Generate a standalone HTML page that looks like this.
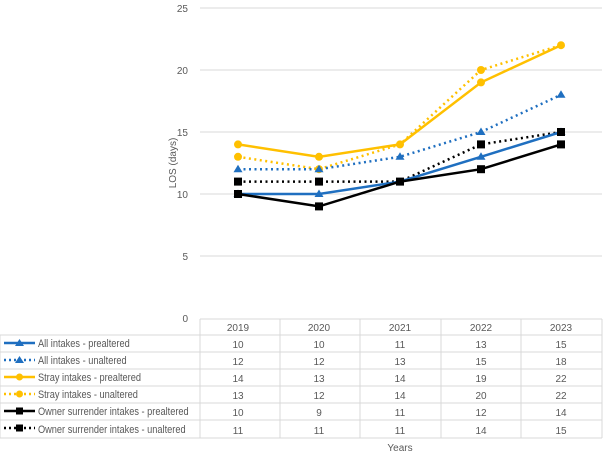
<!DOCTYPE html>
<html><head><style>
body{margin:0;background:#fff;width:603px;height:452px;overflow:hidden;font-family:"Liberation Sans",sans-serif}
</style></head><body>
<svg width="603" height="452" xmlns="http://www.w3.org/2000/svg" font-family="Liberation Sans, sans-serif" font-size="10" fill="#595959">
<g stroke="#d9d9d9" stroke-width="1">
<line x1="200" y1="8" x2="602" y2="8"/><line x1="200" y1="70" x2="602" y2="70"/>
<line x1="200" y1="132" x2="602" y2="132"/><line x1="200" y1="194" x2="602" y2="194"/>
<line x1="200" y1="256" x2="602" y2="256"/>
</g>
<g text-anchor="end" fill="#595959">
<text x="188" y="12">25</text><text x="188" y="74">20</text><text x="188" y="136">15</text>
<text x="188" y="198">10</text><text x="188" y="260">5</text><text x="188" y="322">0</text>
</g>
<text transform="translate(176,163) rotate(-90)" text-anchor="middle">LOS (days)</text>
<g stroke="#d9d9d9" stroke-width="1" fill="none">
<line x1="200" y1="319" x2="602" y2="319"/>
<line x1="0" y1="335" x2="602" y2="335"/><line x1="0" y1="352" x2="602" y2="352"/>
<line x1="0" y1="369" x2="602" y2="369"/><line x1="0" y1="386" x2="602" y2="386"/>
<line x1="0" y1="403" x2="602" y2="403"/><line x1="0" y1="420" x2="602" y2="420"/>
<line x1="0" y1="438" x2="602" y2="438"/>
<line x1="0" y1="335" x2="0" y2="438"/>
<line x1="200" y1="319" x2="200" y2="438"/><line x1="280" y1="319" x2="280" y2="438"/>
<line x1="360" y1="319" x2="360" y2="438"/><line x1="441" y1="319" x2="441" y2="438"/>
<line x1="521" y1="319" x2="521" y2="438"/><line x1="602" y1="319" x2="602" y2="438"/>
</g>
<g text-anchor="middle">
<text x="238" y="331">2019</text><text x="319" y="331">2020</text><text x="400" y="331">2021</text><text x="481" y="331">2022</text><text x="561" y="331">2023</text>
<text x="238" y="348">10</text><text x="319" y="348">10</text><text x="400" y="348">11</text><text x="481" y="348">13</text><text x="561" y="348">15</text>
<text x="238" y="365">12</text><text x="319" y="365">12</text><text x="400" y="365">13</text><text x="481" y="365">15</text><text x="561" y="365">18</text>
<text x="238" y="382">14</text><text x="319" y="382">13</text><text x="400" y="382">14</text><text x="481" y="382">19</text><text x="561" y="382">22</text>
<text x="238" y="399">13</text><text x="319" y="399">12</text><text x="400" y="399">14</text><text x="481" y="399">20</text><text x="561" y="399">22</text>
<text x="238" y="416">10</text><text x="319" y="416">9</text><text x="400" y="416">11</text><text x="481" y="416">12</text><text x="561" y="416">14</text>
<text x="238" y="434">11</text><text x="319" y="434">11</text><text x="400" y="434">11</text><text x="481" y="434">14</text><text x="561" y="434">15</text>
<text x="400" y="451">Years</text>
</g>
<g transform="scale(0.84,1)" font-size="11">
<text x="45.2" y="347">All intakes - prealtered</text>
<text x="45.2" y="364">All intakes - unaltered</text>
<text x="45.2" y="381">Stray intakes - prealtered</text>
<text x="45.2" y="398">Stray intakes - unaltered</text>
<text x="45.2" y="415">Owner surrender intakes - prealtered</text>
<text x="45.2" y="433">Owner surrender intakes - unaltered</text>
</g>
<line x1="4" y1="343" x2="35" y2="343" stroke="#1f6fc0" stroke-width="2.5"/><polygon points="19.5,339 24,346 15,346" fill="#1f6fc0"/>
<line x1="4" y1="360" x2="35" y2="360" stroke="#1f6fc0" stroke-width="2.5" stroke-dasharray="2,3"/><polygon points="19.5,356 24,363 15,363" fill="#1f6fc0"/>
<line x1="4" y1="377" x2="35" y2="377" stroke="#ffc000" stroke-width="2.5"/><circle cx="19.5" cy="377" r="3.5" fill="#ffc000"/>
<line x1="4" y1="394" x2="35" y2="394" stroke="#ffc000" stroke-width="2.5" stroke-dasharray="2,3"/><circle cx="19.5" cy="394" r="3.5" fill="#ffc000"/>
<line x1="4" y1="411" x2="35" y2="411" stroke="#000" stroke-width="2.5"/><rect x="16" y="407.5" width="7" height="7" fill="#000"/>
<line x1="4" y1="428" x2="35" y2="428" stroke="#000" stroke-width="2.5" stroke-dasharray="2,3"/><rect x="16" y="424.5" width="7" height="7" fill="#000"/>
<g fill="none" stroke-width="2.5">
<polyline stroke="#ffc000" points="238,144.4 319,156.8 400,144.4 481,82.4 561,45.2"/>
<polyline stroke="#ffc000" stroke-dasharray="2,3.5" points="238,156.8 319,169.2 400,144.4 481,70 561,45.2"/>
<polyline stroke="#1f6fc0" stroke-dasharray="2,3.5" points="238,169.2 319,169.2 400,156.8 481,132 561,94.8"/>
<polyline stroke="#000" stroke-dasharray="2,3.5" points="238,181.6 319,181.6 400,181.6 481,144.4 561,132"/>
<polyline stroke="#1f6fc0" points="238,194 319,194 400,181.6 481,156.8 561,132"/>
<polyline stroke="#000" points="238,194 319,206.4 400,181.6 481,169.2 561,144.4"/>
</g>
<g fill="#ffc000">
<circle cx="238" cy="144.4" r="4"/><circle cx="319" cy="156.8" r="4"/><circle cx="400" cy="144.4" r="4"/><circle cx="481" cy="82.4" r="4"/><circle cx="561" cy="45.2" r="4"/>
<circle cx="238" cy="156.8" r="4"/><circle cx="319" cy="169.2" r="4"/><circle cx="481" cy="70" r="4"/>
</g>
<g fill="#1f6fc0">
<polygon points="238,164.7 242.5,172.2 233.5,172.2"/><polygon points="319,164.7 323.5,172.2 314.5,172.2"/><polygon points="400,152.3 404.5,159.8 395.5,159.8"/><polygon points="481,127.5 485.5,135 476.5,135"/><polygon points="561,90.3 565.5,97.8 556.5,97.8"/>
<polygon points="238,189.5 242.5,197 233.5,197"/><polygon points="319,189.5 323.5,197 314.5,197"/><polygon points="481,152.3 485.5,159.8 476.5,159.8"/><polygon points="561,127.5 565.5,135 556.5,135"/>
</g>
<g fill="#000">
<rect x="234" y="177.6" width="8" height="8"/><rect x="315" y="177.6" width="8" height="8"/><rect x="396" y="177.6" width="8" height="8"/><rect x="477" y="140.4" width="8" height="8"/><rect x="557" y="128" width="8" height="8"/>
<rect x="234" y="190" width="8" height="8"/><rect x="315" y="202.4" width="8" height="8"/><rect x="477" y="165.2" width="8" height="8"/><rect x="557" y="140.4" width="8" height="8"/>
</g>
</svg>
</body></html>
